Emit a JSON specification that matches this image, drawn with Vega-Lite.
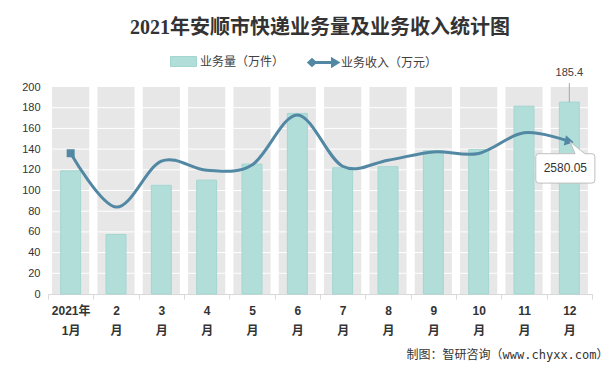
{
  "$schema": "https://vega.github.io/schema/vega-lite/v6.json",
  "width": 544,
  "height": 207,
  "autosize": "none",
  "padding": {"left": 48, "top": 87, "right": 21, "bottom": 75},
  "background": "white",
  "title": {
    "text": "2021年安顺市快递业务量及业务收入统计图",
    "font": "Liberation Serif, Noto Sans CJK SC",
    "fontSize": 20,
    "fontWeight": "bold",
    "color": "#333333",
    "anchor": "middle",
    "frame": "group",
    "offset": 13
  },
  "datasets": {
    "months": [
      {"m": 1, "vol": 119, "rev": 2380},
      {"m": 2, "vol": 57.5, "rev": 1470},
      {"m": 3, "vol": 105, "rev": 2245},
      {"m": 4, "vol": 110, "rev": 2093},
      {"m": 5, "vol": 125.5, "rev": 2180},
      {"m": 6, "vol": 174.5, "rev": 3028},
      {"m": 7, "vol": 122, "rev": 2160},
      {"m": 8, "vol": 123, "rev": 2263},
      {"m": 9, "vol": 138.5, "rev": 2403},
      {"m": 10, "vol": 139.5, "rev": 2377},
      {"m": 11, "vol": 181.5, "rev": 2725},
      {"m": 12, "vol": 185.4, "rev": 2580.05}
    ],
    "grid": [{"v": 20}, {"v": 40}, {"v": 60}, {"v": 80}, {"v": 100}, {"v": 120}, {"v": 140}, {"v": 160}, {"v": 180}]
  },
  "layer": [
    {
      "layer": [
        {
          "data": {"name": "months"},
          "mark": {"type": "bar", "color": "#e7e7e7", "width": {"band": 0.82}},
          "encoding": {
            "x": {
              "field": "m",
              "type": "ordinal",
              "scale": {"paddingInner": 0, "paddingOuter": 0},
              "axis": {
                "title": "制图：智研咨询（www.chyxx.com）",
                "titleFont": "DejaVu Sans Mono, Noto Sans CJK SC",
                "titleFontSize": 12,
                "titleFontWeight": "normal",
                "titleColor": "#333333",
                "titleAnchor": "end",
                "titleAlign": "right",
                "titleBaseline": "middle",
                "titleX": 560,
                "titleY": 60,
                "labelAngle": 0,
                "labelExpr": "datum.value == null ? '' : (datum.value == 1 ? ['2021年', '1月'] : [datum.value + '', '月'])",
                "labelFontWeight": "bold",
                "labelFontSize": 12,
                "labelColor": "#333333",
                "labelLineHeight": 20,
                "labelPadding": 6,
                "labelBaseline": "top",
                "ticks": true,
                "tickBand": "extent",
                "tickSize": 5,
                "tickColor": "#d9d9d9",
                "domainColor": "#d9d9d9",
                "grid": false
              }
            },
            "y": {
              "datum": 200,
              "type": "quantitative",
              "scale": {"domain": [0, 200]},
              "axis": {"title": null, "values": [0, 20, 40, 60, 80, 100, 120, 140, 160, 180, 200], "labelOverlap": false, "domain": false, "ticks": false, "grid": false, "labelFontSize": 11, "labelColor": "#333333", "labelPadding": 8}
            }
          }
        },
        {
          "data": {"name": "grid"},
          "mark": {"type": "rule", "color": "white", "strokeWidth": 1},
          "encoding": {
            "y": {"field": "v", "type": "quantitative", "axis": {"title": null, "values": [0, 20, 40, 60, 80, 100, 120, 140, 160, 180, 200], "labelOverlap": false, "domain": false, "ticks": false, "grid": false, "labelFontSize": 11, "labelColor": "#333333", "labelPadding": 8}}
          }
        },
        {
          "data": {"name": "months"},
          "mark": {"type": "bar", "width": {"band": 0.44}, "stroke": "#a3d6d1", "strokeWidth": 1},
          "encoding": {
            "x": {"field": "m", "type": "ordinal"},
            "y": {"field": "vol", "type": "quantitative", "axis": {"title": null, "values": [0, 20, 40, 60, 80, 100, 120, 140, 160, 180, 200], "labelOverlap": false, "domain": false, "ticks": false, "grid": false, "labelFontSize": 11, "labelColor": "#333333", "labelPadding": 8}},
            "fill": {
              "datum": "业务量（万件）",
              "scale": {"range": ["#b2deda"]},
              "legend": {
                "title": null,
                "orient": "none",
                "legendX": 125,
                "legendY": -36,
                "symbolSize": 400,
                "symbolType": "M-1.3,-0.5H1.3V0.5H-1.3Z",
                "symbolStrokeColor": "#a3d6d1",
                "symbolStrokeWidth": 1,
                "symbolOpacity": 1,
                "labelFontSize": 12,
                "labelColor": "#404040",
                "labelOffset": 6
              }
            }
          }
        },
        {
          "data": {"name": "months"},
          "transform": [{"filter": "datum.m == 12"}],
          "mark": {"type": "rule", "color": "#a6a6a6", "strokeWidth": 1, "y2Offset": -19, "clip": false},
          "encoding": {
            "x": {"field": "m", "type": "ordinal"},
            "y": {"field": "vol", "type": "quantitative", "axis": {"title": null, "values": [0, 20, 40, 60, 80, 100, 120, 140, 160, 180, 200], "labelOverlap": false, "domain": false, "ticks": false, "grid": false, "labelFontSize": 11, "labelColor": "#333333", "labelPadding": 8}},
            "y2": {"field": "vol"}
          }
        },
        {
          "data": {"name": "months"},
          "transform": [{"filter": "datum.m == 12"}],
          "mark": {"type": "text", "dy": -29, "fontSize": 11, "color": "#404040", "baseline": "middle"},
          "encoding": {
            "x": {"field": "m", "type": "ordinal"},
            "y": {"field": "vol", "type": "quantitative", "axis": {"title": null, "values": [0, 20, 40, 60, 80, 100, 120, 140, 160, 180, 200], "labelOverlap": false, "domain": false, "ticks": false, "grid": false, "labelFontSize": 11, "labelColor": "#333333", "labelPadding": 8}},
            "text": {"field": "vol", "type": "quantitative", "format": ".1f"}
          }
        }
      ]
    },
    {
      "layer": [
        {
          "data": {"name": "months"},
          "mark": {"type": "line", "interpolate": "cardinal", "strokeWidth": 3},
          "encoding": {
            "x": {"field": "m", "type": "ordinal"},
            "y": {"field": "rev", "type": "quantitative", "scale": {"domain": [0, 3500]}, "axis": null},
            "stroke": {
              "datum": "业务收入（万元）",
              "scale": {"range": ["#5288a3"]},
              "legend": {
                "title": null,
                "orient": "none",
                "legendX": 264,
                "legendY": -36,
                "symbolSize": 400,
                "symbolType": "M-1.45,0L-1.15,-0.28L-0.85,0L-1.15,0.28ZM-1,0H1M0.9,-0.3L1.4,0L0.9,0.3Z",
                "symbolStrokeWidth": 3,
                "symbolFillColor": "#5288a3",
                "symbolOpacity": 1,
                "labelFontSize": 12,
                "labelColor": "#404040",
                "labelOffset": 6
              }
            }
          }
        },
        {
          "data": {"name": "months"},
          "transform": [{"filter": "datum.m == 1"}],
          "mark": {"type": "point", "shape": "square", "size": 64, "filled": true, "color": "#5288a3", "opacity": 1},
          "encoding": {
            "x": {"field": "m", "type": "ordinal"},
            "y": {"field": "rev", "type": "quantitative"}
          }
        },
        {
          "data": {"name": "months"},
          "transform": [{"filter": "datum.m == 12"}],
          "mark": {"type": "point", "shape": "triangle-right", "size": 110, "angle": 12, "filled": true, "color": "#5288a3", "opacity": 1},
          "encoding": {
            "x": {"field": "m", "type": "ordinal"},
            "y": {"field": "rev", "type": "quantitative"}
          }
        },
        {
          "data": {"name": "months"},
          "transform": [{"filter": "datum.m == 12"}],
          "mark": {
            "type": "point",
            "shape": "M-1.77,-0.98H0.65L0.31,-1.78L1.3,-0.98H1.77Q1.97,-0.98 1.97,-0.78V0.78Q1.97,0.98 1.77,0.98H-1.77Q-1.97,0.98 -1.97,0.78V-0.78Q-1.97,-0.98 -1.77,-0.98Z",
            "size": 900,
            "filled": true,
            "fill": "white",
            "stroke": "#bfbfbf",
            "strokeWidth": 1,
            "opacity": 1,
            "xOffset": -4,
            "yOffset": 27
          },
          "encoding": {
            "x": {"field": "m", "type": "ordinal"},
            "y": {"field": "rev", "type": "quantitative"}
          }
        },
        {
          "data": {"name": "months"},
          "transform": [{"filter": "datum.m == 12"}],
          "mark": {"type": "text", "dx": -4, "dy": 27, "fontSize": 12, "color": "#333333", "baseline": "middle"},
          "encoding": {
            "x": {"field": "m", "type": "ordinal"},
            "y": {"field": "rev", "type": "quantitative"},
            "text": {"field": "rev", "type": "quantitative", "format": ".2f"}
          }
        }
      ]
    }
  ],
  "resolve": {"scale": {"y": "independent"}},
  "config": {
    "font": "Liberation Sans, Noto Sans CJK SC",
    "view": {"stroke": null}
  }
}
